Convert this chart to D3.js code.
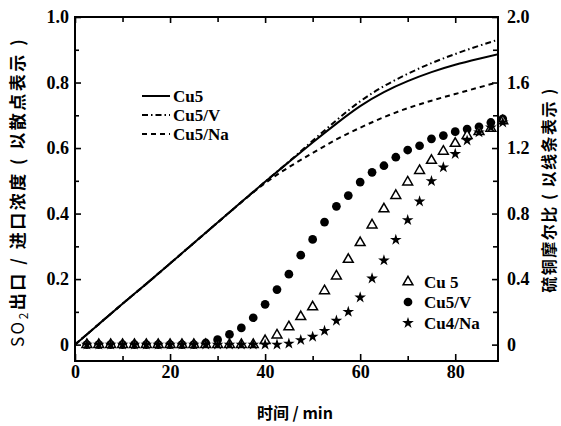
<!DOCTYPE html>
<html><head><meta charset="utf-8">
<script src="https://cdn.jsdelivr.net/npm/d3@7"></script>
<style>
html,body{margin:0;padding:0;background:#fff;}
svg text{fill:#000;}
.tick text{font-family:"Liberation Serif","Times New Roman",serif;font-weight:bold;font-size:18px;}
</style></head>
<body><svg id="c" width="561" height="426"></svg>
<script>
// ---- data ----
const times = [2.5,5,7.5,10,12.5,15,17.5,20,22.5,25,27.5,30,32.5,35,37.5,40,42.5,45,47.5,50,52.5,55,57.5,60,62.5,65,67.5,70,72.5,75,77.5,80,82.5,85,87.5,90];
const ptsCu5 = [0,0,0,0,0,0,0,0,0,0,0,0,0,0,0,0.012,0.029,0.054,0.085,0.115,0.164,0.209,0.260,0.311,0.365,0.414,0.455,0.496,0.531,0.562,0.590,0.614,0.638,0.650,0.660,0.683];
const ptsCu5V = [0,0,0,0,0,0,0,0,0,0,0.005,0.015,0.031,0.051,0.082,0.123,0.168,0.215,0.273,0.321,0.374,0.422,0.455,0.496,0.526,0.546,0.572,0.594,0.607,0.628,0.638,0.650,0.658,0.665,0.678,0.689];
const ptsCu4Na = [0,0,0,0,0,0,0,0,0,0,0,0,0,0,0,0,0,0.003,0.014,0.024,0.042,0.073,0.100,0.144,0.202,0.257,0.320,0.380,0.437,0.499,0.541,0.582,0.623,0.648,0.663,0.678];

const lineTimes = [0,5,10,15,20,25,30,35,40,45,50,55,60,65,70,75,80,85,90];
const lineCu5 = [0,0.125,0.25,0.37,0.495,0.62,0.745,0.87,0.995,1.115,1.235,1.35,1.46,1.545,1.61,1.665,1.71,1.745,1.78];
const lineCu5V = [0,0.125,0.25,0.37,0.495,0.62,0.745,0.87,0.995,1.115,1.245,1.37,1.49,1.58,1.655,1.72,1.775,1.825,1.87];
const lineCu5Na = [0,0.125,0.25,0.37,0.495,0.62,0.745,0.87,0.99,1.085,1.17,1.255,1.325,1.39,1.445,1.49,1.53,1.57,1.61];

const xTicks = [0,20,40,60,80];
const xMinor = [10,30,50,70];
const yLTicks = [0,0.2,0.4,0.6,0.8,1.0];
const yLLabels = ["0","0.2","0.4","0.6","0.8","1.0"];
const yLMinor = [0.1,0.3,0.5,0.7,0.9];
const yRTicks = [0,0.4,0.8,1.2,1.6,2.0];
const yRLabels = ["0","0.4","0.8","1.2","1.6","2.0"];
const yRMinor = [0.2,0.6,1.0,1.4,1.8];

const lineNames = ["Cu5","Cu5/V","Cu5/Na"];
const pointNames = ["Cu 5","Cu5/V","Cu4/Na"];
const xTitle = "时间 / min";
const yLTitle = ["SO","2","出口 / 进口浓度 ( 以散点表示 )"];
const yRTitle = "硫铜摩尔比 ( 以线条表示 )";

// ---- layout ----
const L = 75, R = 498, T = 17, B = 361;
const svg = d3.select("#c");
const x = d3.scaleLinear().domain([0, 89]).range([L, R]);
const yL = d3.scaleLinear().domain([-0.05, 1.0]).range([B, T]);
const yR = d3.scaleLinear().domain([-0.1, 2.0]).range([B, T]);

svg.append("defs").append("clipPath").attr("id","clip")
  .append("rect").attr("x",L).attr("y",T).attr("width",R-L).attr("height",B-T);

function styleAxis(g){
  g.select(".domain").remove();
  g.selectAll(".tick line").attr("stroke","#000").attr("stroke-width",1.6);
}
// bottom
svg.append("g").attr("transform",`translate(0,${B})`)
  .call(d3.axisBottom(x).tickValues(xTicks).tickSize(-7).tickPadding(4).tickFormat(d3.format("d")))
  .call(styleAxis);
svg.append("g").attr("transform",`translate(0,${B})`)
  .call(d3.axisBottom(x).tickValues(xMinor).tickSize(-5).tickFormat(""))
  .call(styleAxis);
// top
svg.append("g").attr("transform",`translate(0,${T})`)
  .call(d3.axisTop(x).tickValues(xTicks).tickSize(-6).tickFormat(""))
  .call(styleAxis);
svg.append("g").attr("transform",`translate(0,${T})`)
  .call(d3.axisTop(x).tickValues(xMinor).tickSize(-5).tickFormat(""))
  .call(styleAxis);
// left
svg.append("g").attr("transform",`translate(${L},0)`)
  .call(d3.axisLeft(yL).tickValues(yLTicks).tickSize(-6).tickPadding(6).tickFormat((d,i)=>yLLabels[i]))
  .call(styleAxis);
svg.append("g").attr("transform",`translate(${L},0)`)
  .call(d3.axisLeft(yL).tickValues(yLMinor).tickSize(-4).tickFormat(""))
  .call(styleAxis);
// right
svg.append("g").attr("transform",`translate(${R},0)`)
  .call(d3.axisRight(yR).tickValues(yRTicks).tickSize(-6).tickPadding(9).tickFormat((d,i)=>yRLabels[i]))
  .call(styleAxis);
svg.append("g").attr("transform",`translate(${R},0)`)
  .call(d3.axisRight(yR).tickValues(yRMinor).tickSize(-5).tickFormat(""))
  .call(styleAxis);

// frame
svg.append("rect").attr("x",L).attr("y",T).attr("width",R-L).attr("height",B-T)
  .attr("fill","none").attr("stroke","#000").attr("stroke-width",2);

// lines
const lineGen = yv => d3.line().x((d,i)=>x(lineTimes[i])).y(d=>yR(d)).curve(d3.curveBasis)(yv);
const plot = svg.append("g").attr("clip-path","url(#clip)");
const lineStyles = [
  {data: lineCu5, dash: null},
  {data: lineCu5V, dash: "6,3,1.5,3"},
  {data: lineCu5Na, dash: "5,4"}
];
lineStyles.forEach(s=>{
  plot.append("path").attr("d", lineGen(s.data)).attr("fill","none")
    .attr("stroke","#000").attr("stroke-width",2)
    .attr("stroke-dasharray", s.dash);
});

// points
const pg = svg.append("g");
const circ = d3.symbol().type(d3.symbolCircle).size(60);
const tri = d3.symbol().type(d3.symbolTriangle).size(42);
const star = d3.symbol().type(d3.symbolStar).size(42);
pg.selectAll(".cv").data(ptsCu5V).join("path")
  .attr("transform",(d,i)=>`translate(${x(times[i])},${yL(d)})`)
  .attr("d",circ()).attr("fill","#000");
pg.selectAll(".tr").data(ptsCu5).join("path")
  .attr("transform",(d,i)=>`translate(${x(times[i])},${yL(d)})`)
  .attr("d",tri()).attr("fill","#fff").attr("stroke","#000").attr("stroke-width",1.5);
pg.selectAll(".st").data(ptsCu4Na).join("path")
  .attr("transform",(d,i)=>`translate(${x(times[i])},${yL(d)})`)
  .attr("d",star()).attr("fill","#000");

// line legend
const lg = svg.append("g");
const lgY = [96, 115, 134];
lineStyles.forEach((s,i)=>{
  lg.append("line").attr("x1",142).attr("x2",170).attr("y1",lgY[i]).attr("y2",lgY[i])
    .attr("stroke","#000").attr("stroke-width",2).attr("stroke-dasharray",s.dash);
  lg.append("text").attr("x",173).attr("y",lgY[i]).attr("dy","0.35em")
    .attr("font-family","Liberation Serif, serif").attr("font-weight","bold").attr("font-size",17)
    .text(lineNames[i]);
});

// point legend
const pl = svg.append("g");
const plY = [282, 302, 323];
const syms = [
  {sym: tri, fill:"#fff", stroke:"#000"},
  {sym: circ, fill:"#000", stroke:null},
  {sym: star, fill:"#000", stroke:null}
];
syms.forEach((s,i)=>{
  pl.append("path").attr("transform",`translate(408,${plY[i]})`).attr("d",s.sym())
    .attr("fill",s.fill).attr("stroke",s.stroke).attr("stroke-width",1.5);
  pl.append("text").attr("x",424).attr("y",plY[i]).attr("dy","0.35em")
    .attr("font-family","Liberation Serif, serif").attr("font-weight","bold").attr("font-size",17)
    .text(pointNames[i]);
});

// axis titles
svg.append("text").attr("x",295).attr("y",413).attr("dy","0.35em").attr("text-anchor","middle")
  .attr("font-family","Noto Sans CJK SC, sans-serif").attr("font-weight","bold").attr("font-size",16)
  .text(xTitle);

const lt = svg.append("text").attr("transform","translate(18,192) rotate(-90)")
  .attr("text-anchor","middle").attr("dy","0.35em")
  .attr("font-family","Noto Sans CJK SC, sans-serif").attr("font-weight","bold").attr("font-size",17).attr("letter-spacing",2.5);
lt.append("tspan").attr("font-weight","normal").text(yLTitle[0]);
lt.append("tspan").attr("font-weight","normal").attr("font-size",12).attr("dy",4).text(yLTitle[1]);
lt.append("tspan").attr("dy",-4).text(yLTitle[2]);

svg.append("text").attr("transform","translate(549,190) rotate(-90)")
  .attr("text-anchor","middle").attr("dy","0.35em")
  .attr("font-family","Noto Sans CJK SC, sans-serif").attr("font-weight","bold").attr("font-size",16).attr("letter-spacing",1.5)
  .text(yRTitle);
</script></body></html>
